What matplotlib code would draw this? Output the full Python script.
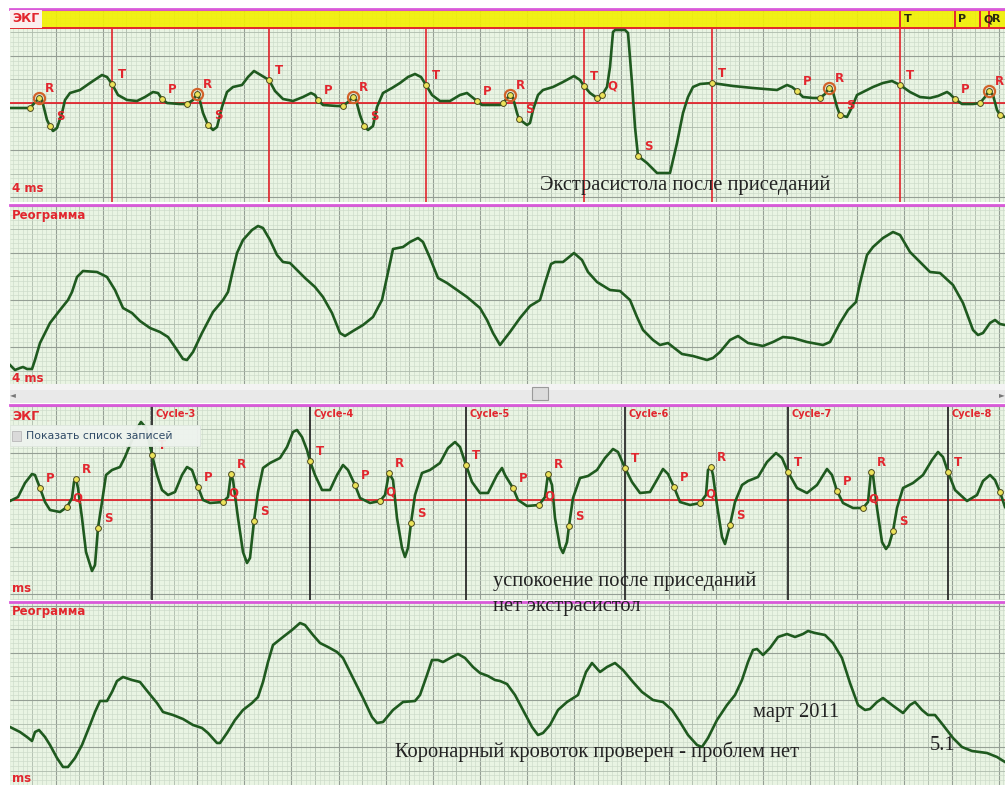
import numpy as np
import matplotlib
matplotlib.use("Agg")
import matplotlib.pyplot as plt
from matplotlib.patches import Rectangle

# time in ms (4 ms per sample), amplitude in mV / Ohm
ecg1_t = [0, 80, 116, 128, 148, 160, 172, 188, 208, 220, 240, 280, 320, 368, 388, 408, 432, 468, 508, 540,
          572, 592, 608, 628, 680, 708, 732, 748, 756, 772, 792, 812, 828, 848, 868, 892, 928, 952, 976, 996,
          1036, 1060, 1092, 1132, 1172, 1204, 1220, 1232, 1252, 1308, 1332, 1352, 1372, 1384, 1400, 1416, 1432,
          1452, 1468, 1492, 1528, 1560, 1592, 1620, 1644, 1664, 1688, 1720, 1760, 1800, 1828, 1848, 1868, 1888,
          1960, 1972, 2000, 2012, 2028, 2036, 2068, 2080, 2092, 2112, 2132, 2172, 2212, 2256, 2280, 2296, 2320,
          2348, 2368, 2388, 2400, 2412, 2420, 2460, 2472, 2488, 2500, 2512, 2548, 2588, 2640, 2668, 2692, 2712,
          2732, 2760, 2808, 2892, 2972, 3068, 3108, 3128, 3148, 3172, 3212, 3240, 3260, 3276, 3292, 3308, 3320,
          3348, 3368, 3388, 3412, 3452, 3492, 3528, 3560, 3600, 3640, 3680, 3712, 3748, 3760, 3780, 3808, 3852,
          3880, 3900, 3916, 3932, 3948, 3960, 3980]
ecg1_v = [-0.05, -0.05, 0.05, 0.03, -0.17, -0.23, -0.28, -0.25, -0.10, 0.03, 0.10, 0.13, 0.20, 0.28, 0.26, 0.19,
          0.08, 0.03, 0.02, 0.06, 0.11, 0.10, 0.04, 0.00, -0.01, -0.01, 0.03, 0.09, 0.06, -0.10, -0.22, -0.27,
          -0.24, -0.04, 0.11, 0.16, 0.18, 0.26, 0.32, 0.29, 0.23, 0.12, 0.04, 0.02, 0.06, 0.10, 0.08, 0.03, -0.02,
          -0.03, -0.03, 0.01, 0.06, 0.03, -0.12, -0.23, -0.27, -0.23, -0.04, 0.10, 0.15, 0.20, 0.26, 0.29, 0.26,
          0.18, 0.08, 0.02, 0.02, 0.08, 0.10, 0.06, 0.02, -0.02, -0.02, 0.00, 0.08, 0.05, -0.10, -0.16, -0.22,
          -0.20, -0.07, 0.08, 0.13, 0.16, 0.21, 0.27, 0.23, 0.17, 0.10, 0.05, 0.08, 0.16, 0.36, 0.71, 0.73, 0.73,
          0.70, 0.20, -0.24, -0.53, -0.60, -0.70, -0.70, -0.40, -0.10, 0.06, 0.16, 0.19, 0.20, 0.17, 0.15, 0.13,
          0.18, 0.16, 0.12, 0.06, 0.05, 0.05, 0.09, 0.15, 0.11, -0.04, -0.12, -0.14, -0.04, 0.08, 0.11, 0.16, 0.20,
          0.22, 0.18, 0.11, 0.06, 0.05, 0.07, 0.11, 0.09, 0.04, -0.01, -0.01, 0.00, 0.06, 0.12, 0.08, -0.07, -0.12,
          -0.14]
ecg1_mark_t = [80, 116, 160, 408, 608, 708, 748, 792, 1036, 1232, 1332, 1372, 1416, 1664, 1868, 1972, 2000,
               2036, 2296, 2348, 2368, 2512, 2808, 3148, 3240, 3276, 3320, 3560, 3780, 3880, 3916, 3960]
ecg1_mark_lab = ["", "R", "S", "T", "P", "", "R", "S", "T", "P", "", "R", "S", "T", "P", "", "R",
                 "S", "T", "", "Q", "S", "T", "P", "", "R", "S", "T", "P", "", "R", ""]
band_t = [3560, 3780, 3880, 3916]
band_lab = ["T", "P", "Q", "R"]

reo1_t = [0, 20, 40, 52, 68, 88, 100, 120, 160, 200, 232, 248, 268, 292, 348, 388, 420, 452, 488, 520, 560,
          600, 632, 660, 692, 708, 732, 768, 812, 852, 872, 892, 908, 932, 968, 992, 1012, 1040, 1068, 1092,
          1120, 1148, 1180, 1220, 1252, 1288, 1320, 1340, 1372, 1412, 1452, 1488, 1508, 1532, 1572, 1600, 1632,
          1652, 1680, 1712, 1748, 1788, 1828, 1880, 1908, 1932, 1960, 2000, 2040, 2080, 2120, 2140, 2164, 2180,
          2212, 2256, 2288, 2312, 2348, 2400, 2440, 2480, 2508, 2532, 2572, 2600, 2632, 2652, 2688, 2732, 2788,
          2812, 2840, 2880, 2912, 2952, 3012, 3052, 3092, 3132, 3188, 3252, 3280, 3320, 3352, 3384, 3400, 3428,
          3452, 3492, 3532, 3560, 3600, 3652, 3680, 3720, 3772, 3812, 3852, 3872, 3892, 3920, 3940, 3960, 3980]
reo1_v = [-0.65, -0.70, -0.68, -0.67, -0.69, -0.69, -0.60, -0.43, -0.23, -0.10, 0.00, 0.08, 0.23, 0.29, 0.28,
          0.23, 0.10, -0.08, -0.13, -0.21, -0.28, -0.32, -0.37, -0.47, -0.59, -0.60, -0.52, -0.33, -0.12, 0.00,
          0.08, 0.30, 0.47, 0.60, 0.70, 0.74, 0.72, 0.60, 0.45, 0.38, 0.37, 0.30, 0.22, 0.13, 0.03, -0.13, -0.33,
          -0.36, -0.31, -0.25, -0.17, 0.00, 0.23, 0.51, 0.53, 0.58, 0.62, 0.58, 0.42, 0.22, 0.17, 0.10, 0.03,
          -0.08, -0.20, -0.33, -0.45, -0.32, -0.18, -0.06, 0.00, 0.17, 0.36, 0.38, 0.38, 0.47, 0.40, 0.28, 0.18,
          0.10, 0.09, 0.00, -0.17, -0.30, -0.40, -0.45, -0.43, -0.47, -0.54, -0.56, -0.60, -0.58, -0.52, -0.40,
          -0.36, -0.43, -0.46, -0.42, -0.37, -0.38, -0.42, -0.45, -0.42, -0.23, -0.10, -0.02, 0.17, 0.45, 0.53,
          0.62, 0.68, 0.65, 0.48, 0.35, 0.28, 0.27, 0.15, -0.03, -0.30, -0.35, -0.33, -0.23, -0.20, -0.24, -0.25]

ecg2_t = [0, 32, 60, 88, 100, 120, 140, 160, 200, 228, 248, 256, 264, 272, 288, 304, 328, 340, 352, 368, 384,
          408, 440, 460, 480, 504, 524, 544, 568, 588, 608, 632, 660, 688, 708, 728, 752, 772, 800, 852, 872,
          884, 892, 912, 932, 948, 960, 976, 992, 1012, 1040, 1080, 1108, 1132, 1148, 1168, 1188, 1200, 1220,
          1248, 1280, 1308, 1332, 1352, 1380, 1400, 1440, 1480, 1500, 1516, 1532, 1548, 1568, 1580, 1592, 1604,
          1620, 1648, 1680, 1720, 1752, 1780, 1800, 1824, 1848, 1880, 1912, 1948, 1968, 1980, 2012, 2032, 2068,
          2116, 2140, 2152, 2168, 2180, 2200, 2212, 2228, 2236, 2252, 2280, 2312, 2348, 2380, 2412, 2432, 2460,
          2488, 2520, 2560, 2592, 2612, 2632, 2656, 2680, 2720, 2760, 2784, 2792, 2804, 2812, 2828, 2848, 2860,
          2880, 2900, 2928, 2952, 2992, 3028, 3064, 3088, 3112, 3148, 3188, 3228, 3268, 3288, 3308, 3332, 3372,
          3412, 3432, 3444, 3452, 3468, 3488, 3504, 3516, 3532, 3548, 3572, 3612, 3652, 3688, 3712, 3732, 3752,
          3780, 3828, 3868, 3892, 3920, 3940, 3960, 3980]
ecg2_v = [-0.01, 0.03, 0.17, 0.26, 0.25, 0.12, -0.02, -0.10, -0.12, -0.07, 0.02, 0.18, 0.21, 0.12, -0.18,
          -0.52, -0.71, -0.65, -0.28, -0.02, 0.25, 0.30, 0.33, 0.43, 0.55, 0.70, 0.78, 0.72, 0.45, 0.25, 0.10,
          0.05, 0.08, 0.25, 0.33, 0.30, 0.13, 0.00, -0.03, -0.02, 0.03, 0.26, 0.20, -0.18, -0.52, -0.63, -0.58,
          -0.21, 0.08, 0.32, 0.37, 0.42, 0.53, 0.68, 0.70, 0.63, 0.50, 0.39, 0.25, 0.10, 0.10, 0.25, 0.35, 0.30,
          0.15, 0.02, -0.03, -0.01, 0.05, 0.27, 0.20, -0.18, -0.48, -0.57, -0.48, -0.23, 0.05, 0.27, 0.30, 0.37,
          0.52, 0.58, 0.53, 0.35, 0.18, 0.07, 0.07, 0.25, 0.32, 0.25, 0.12, 0.00, -0.06, -0.05, 0.03, 0.26, 0.15,
          -0.18, -0.47, -0.53, -0.42, -0.26, 0.02, 0.22, 0.24, 0.30, 0.42, 0.51, 0.48, 0.32, 0.18, 0.07, 0.08,
          0.22, 0.31, 0.26, 0.13, -0.02, -0.05, -0.03, 0.05, 0.30, 0.33, 0.25, -0.05, -0.37, -0.44, -0.25, -0.02,
          0.15, 0.19, 0.23, 0.38, 0.47, 0.42, 0.28, 0.12, 0.07, 0.15, 0.31, 0.25, 0.09, -0.03, -0.08, -0.08,
          -0.02, 0.28, 0.25, -0.08, -0.42, -0.49, -0.45, -0.31, -0.08, 0.12, 0.17, 0.25, 0.40, 0.48, 0.43, 0.28,
          0.10, -0.01, 0.05, 0.19, 0.25, 0.20, 0.08, -0.07]
ecg2_mark_t = [120, 228, 264, 352, 568, 752, 852, 884, 976, 1200, 1380, 1480, 1516, 1604, 1824, 2012, 2116,
               2152, 2236, 2460, 2656, 2760, 2804, 2880, 3112, 3308, 3412, 3444, 3532, 3752, 3960]
ecg2_mark_lab = ["P", "Q", "R", "S", "T", "P", "Q", "R", "S", "T", "P", "Q", "R", "S", "T", "P", "Q",
                 "R", "S", "T", "P", "Q", "R", "S", "T", "P", "Q", "R", "S", "T", ""]
cycle_t = [568, 1200, 1824, 2460, 3112, 3752]
cycle_lab = ["Cycle-3", "Cycle-4", "Cycle-5", "Cycle-6", "Cycle-7", "Cycle-8"]

reo2_t = [0, 40, 68, 88, 100, 116, 140, 160, 188, 212, 232, 260, 288, 320, 340, 360, 388, 408, 428, 452, 488,
          520, 552, 588, 612, 652, 692, 732, 768, 792, 828, 840, 868, 900, 932, 968, 992, 1012, 1032, 1052, 1092,
          1128, 1160, 1180, 1212, 1240, 1272, 1308, 1332, 1372, 1412, 1448, 1468, 1492, 1532, 1572, 1620, 1640,
          1668, 1688, 1712, 1732, 1768, 1792, 1820, 1852, 1880, 1912, 1940, 1960, 1988, 2020, 2052, 2088, 2112,
          2132, 2160, 2192, 2228, 2272, 2304, 2328, 2360, 2388, 2420, 2452, 2492, 2528, 2572, 2612, 2648, 2680,
          2712, 2748, 2768, 2792, 2828, 2868, 2900, 2928, 2952, 2972, 2988, 3012, 3040, 3072, 3108, 3140, 3172,
          3192, 3220, 3260, 3292, 3328, 3360, 3392, 3420, 3440, 3468, 3492, 3528, 3572, 3600, 3620, 3648, 3672,
          3700, 3732, 3772, 3808, 3848, 3908, 3948, 3980]
reo2_v = [-0.27, -0.32, -0.37, -0.41, -0.32, -0.30, -0.37, -0.45, -0.58, -0.67, -0.67, -0.58, -0.45, -0.25,
          -0.12, -0.01, -0.01, 0.08, 0.19, 0.23, 0.20, 0.18, 0.08, -0.03, -0.12, -0.15, -0.19, -0.25, -0.28,
          -0.33, -0.43, -0.43, -0.33, -0.20, -0.10, -0.03, 0.03, 0.18, 0.38, 0.55, 0.63, 0.70, 0.77, 0.75, 0.65,
          0.57, 0.53, 0.48, 0.42, 0.22, 0.02, -0.17, -0.23, -0.22, -0.10, -0.02, -0.01, 0.05, 0.25, 0.40, 0.40,
          0.38, 0.43, 0.46, 0.42, 0.33, 0.27, 0.24, 0.20, 0.19, 0.16, 0.05, -0.10, -0.27, -0.35, -0.33, -0.25,
          -0.10, -0.02, 0.05, 0.28, 0.37, 0.28, 0.33, 0.37, 0.30, 0.18, 0.08, 0.00, -0.02, -0.10, -0.22, -0.35,
          -0.45, -0.47, -0.38, -0.20, -0.05, 0.05, 0.20, 0.38, 0.50, 0.51, 0.45, 0.52, 0.63, 0.66, 0.63, 0.66,
          0.69, 0.67, 0.65, 0.57, 0.42, 0.17, -0.05, -0.10, -0.09, -0.02, 0.02, -0.05, -0.13, -0.05, -0.02, -0.10,
          -0.15, -0.15, -0.25, -0.38, -0.47, -0.51, -0.53, -0.57, -0.62]

W, H = 1005, 785
T_END = 3980
GRID_DT = 18.86      # one small cell
GRID_DV = 0.04715

CURVE = "#1f5a1f"
RED = "#e2262e"
PINK = "#d95ad9"
SERIF = "Liberation Serif"


def px_rect(left, top, right, bottom):
    return [left / W, 1 - bottom / H, (right - left) / W, (bottom - top) / H]


def fig_xy(x, y):
    return x / W, 1 - y / H


def make_panel(top, bottom, vtop, vbot):
    ax = fig.add_axes(px_rect(10, top, 1005, bottom))
    ax.set_facecolor("#e9f4e3")
    ax.set_xlim(0, T_END)
    ax.set_ylim(vbot, vtop)
    ax.set_xticks([])
    ax.set_yticks([])
    for s in ["left", "right", "bottom"]:
        ax.spines[s].set_visible(False)
    ax.spines["top"].set_color(PINK)
    ax.spines["top"].set_linewidth(2.0)

    k = np.arange(0, int(T_END / GRID_DT) + 2)
    xs = -6 + k * GRID_DT
    cols = np.where(k % 10 == 0, "#959f95", np.where(k % 5 == 0, "#adbaab", "#cbdac8"))
    lws = np.where(k % 10 == 0, 0.8, np.where(k % 5 == 0, 0.6, 0.45))
    ax.vlines(xs, vbot, vtop, colors=cols, linewidths=lws, zorder=0.5)
    k = np.arange(int(np.floor(vbot / GRID_DV)) - 1, int(np.ceil(vtop / GRID_DV)) + 2)
    ys = k * GRID_DV
    cols = np.where(k % 10 == 0, "#959f95", np.where(k % 5 == 0, "#adbaab", "#cbdac8"))
    lws = np.where(k % 10 == 0, 0.8, np.where(k % 5 == 0, 0.6, 0.45))
    ax.hlines(ys, 0, T_END, colors=cols, linewidths=lws, zorder=0.5)
    return ax


def draw_marks(ax, t, v, mark_t, mark_lab, rings):
    mv = np.interp(mark_t, t, v)
    for mt, m, lab in zip(mark_t, mv, mark_lab):
        if rings and lab == "R":
            ax.plot(mt, m, "o", ms=8, mfc="none", mec="#d2622a", mew=1.6, zorder=4)
        ax.plot(mt, m, "o", ms=4.2, mfc="#ece35a", mec="#4a4a20", mew=0.7, zorder=5)
        if lab:
            ax.annotate(lab, (mt, m), xytext=(7.2, 6.5), textcoords="offset points",
                        ha="center", va="center", color=RED, fontsize=8.5,
                        fontweight="bold", zorder=6)


fig = plt.figure(figsize=(W / 100, H / 100), dpi=100)
fig.patch.set_facecolor("white")

# ---- top ECG
ax1 = make_panel(9, 202, 0.94, -0.99)
ax1.axhspan(0.75, 0.93, fc="#f2f000", alpha=0.9, zorder=1.5)
ax1.axhline(0.75, color=RED, lw=1.4, zorder=2)
ax1.axhline(0.93, color=RED, lw=0.8, zorder=2)
ax1.axhline(0, color=RED, lw=1.3, zorder=2)
for mt, lab in zip(ecg1_mark_t, ecg1_mark_lab):
    if lab == "T":
        ax1.vlines(mt, -0.99, 0.75, color=RED, lw=1.2, zorder=2.2)
for bt, lab in zip(band_t, band_lab):
    ax1.vlines(bt, 0.75, 0.93, color=RED, lw=1.4, zorder=2.2)
    ax1.annotate(lab, (bt, 0.84), xytext=(2.5, 0), textcoords="offset points", ha="left",
                 va="center", fontsize=8, fontweight="bold", color="#2a2a10", zorder=3)
ax1.plot(ecg1_t, ecg1_v, color=CURVE, lw=1.9, zorder=3)
draw_marks(ax1, ecg1_t, ecg1_v, ecg1_mark_t, ecg1_mark_lab, True)
ax1.text(2 / 995, (0.84 + 0.99) / 1.93, "ЭКГ", transform=ax1.transAxes, color=RED, fontsize=9,
         fontweight="bold", va="center", ha="left", zorder=6,
         bbox=dict(fc="#fbeeee", ec="none", pad=1.6))
ax1.text(2 / 995, 14 / 193, "4 ms", transform=ax1.transAxes, color=RED, fontsize=8.5,
         fontweight="bold", va="center", ha="left", zorder=6)

# ---- top reogram
ax2 = make_panel(205, 384, 0.95, -0.84)
ax2.plot(reo1_t, reo1_v, color=CURVE, lw=1.9, zorder=3)
ax2.text(2 / 995, 169 / 179, "Реограмма", transform=ax2.transAxes, color=RED, fontsize=8.5,
         fontweight="bold", va="center", ha="left", zorder=6)
ax2.text(2 / 995, 5 / 179, "4 ms", transform=ax2.transAxes, color=RED, fontsize=8.5,
         fontweight="bold", va="center", ha="left", zorder=6, clip_on=True)

# ---- scrollbar
axs = fig.add_axes(px_rect(10, 384, 1005, 403))
axs.set_xlim(0, 995)
axs.set_ylim(19, 0)
axs.axis("off")
axs.add_patch(Rectangle((0, 0), 995, 19, fc="#e9e9e9", ec="none"))
axs.add_patch(Rectangle((0, 0), 995, 6, fc="#f3f3f3", ec="none"))
axs.add_patch(Rectangle((522, 3), 16, 13, fc="#dcdcdc", ec="#9a9a9a", lw=0.8))
axs.text(3, 11, "◄", fontsize=5.5, color="#777777", va="center", ha="center")
axs.text(992, 11, "►", fontsize=5.5, color="#777777", va="center", ha="center")

# ---- bottom ECG
ax3 = make_panel(405, 600, 0.95, -1.00)
ax3.axhline(0, color=RED, lw=1.3, zorder=2)
for ct, lab in zip(cycle_t, cycle_lab):
    ax3.vlines(ct, -1.0, 0.95, color="#2b2b2b", lw=1.3, zorder=2.2)
    ax3.annotate(lab, (ct, 0.86), xytext=(2.5, 0), textcoords="offset points", ha="left",
                 va="center", fontsize=7, fontweight="bold", color=RED, zorder=6)
ax3.plot(ecg2_t, ecg2_v, color=CURVE, lw=1.9, zorder=3)
draw_marks(ax3, ecg2_t, ecg2_v, ecg2_mark_t, ecg2_mark_lab, False)
ax3.text(2 / 995, 184 / 195, "ЭКГ", transform=ax3.transAxes, color=RED, fontsize=9,
         fontweight="bold", va="center", ha="left", zorder=6)
ax3.text(2 / 995, 12 / 195, "ms", transform=ax3.transAxes, color=RED, fontsize=8.5,
         fontweight="bold", va="center", ha="left", zorder=6)
ax3.add_patch(Rectangle((0, 154 / 195), 190 / 995, 21 / 195, transform=ax3.transAxes,
                        fc="#eef3ee", ec="#dde5dd", lw=0.6, alpha=0.95, zorder=7))
ax3.add_patch(Rectangle((2 / 995, 159 / 195), 9 / 995, 10 / 195, transform=ax3.transAxes,
                        fc="#dadada", ec="#b8b8b8", lw=0.6, zorder=8))
ax3.text(16 / 995, 164 / 195, "Показать список записей", transform=ax3.transAxes,
         color="#2f4a66", fontsize=7.8, va="center", ha="left", zorder=8)

# ---- bottom reogram
ax4 = make_panel(602, 785, 0.98, -0.85)
ax4.plot(reo2_t, reo2_v, color=CURVE, lw=1.9, zorder=3)
ax4.text(2 / 995, 173 / 183, "Реограмма", transform=ax4.transAxes, color=RED, fontsize=8.5,
         fontweight="bold", va="center", ha="left", zorder=6)
ax4.text(2 / 995, 7 / 183, "ms", transform=ax4.transAxes, color=RED, fontsize=8.5,
         fontweight="bold", va="center", ha="left", zorder=6, clip_on=True)

# ---- handwritten-style notes
notes = [("Экстрасистола после приседаний", 540, 185),
         ("успокоение после приседаний", 493, 581),
         ("нет экстрасистол", 493, 607),
         ("март 2011", 753, 713),
         ("Коронарный кровоток проверен - проблем нет", 395, 752),
         ("5.1", 930, 745)]
for txt, x, y in notes:
    fig.text(*fig_xy(x, y), txt, fontfamily=SERIF, fontsize=14.8, color="#222222",
             ha="left", va="center", zorder=10)

fig.savefig("out.png", dpi=100)
